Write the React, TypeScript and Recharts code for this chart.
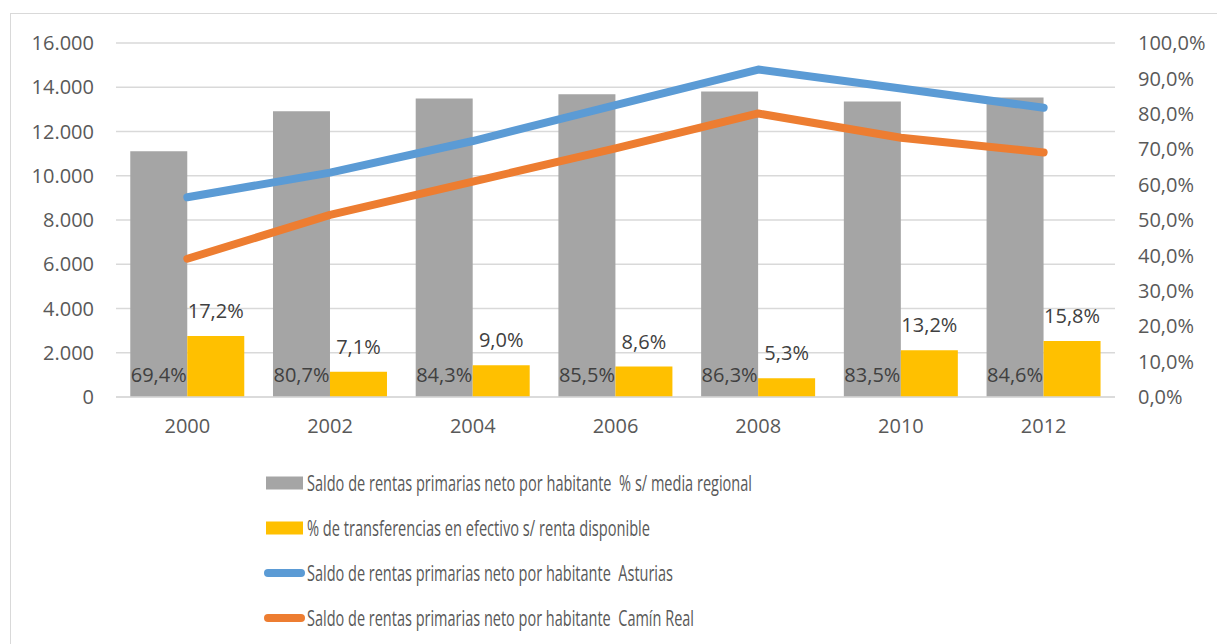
import { ComposedChart, Bar, Line, XAxis, YAxis, CartesianGrid, Legend, LabelList } from "recharts"

const years = ["2000", "2002", "2004", "2006", "2008", "2010", "2012"]
// % s/ media regional (right axis)
const shareOfRegional = [0.694, 0.807, 0.843, 0.855, 0.863, 0.835, 0.846]
// % de transferencias en efectivo s/ renta disponible (right axis)
const transfersShare = [0.172, 0.071, 0.09, 0.086, 0.053, 0.132, 0.158]
// euros por habitante (left axis)
const asturias = [9030, 10140, 11570, 13190, 14800, 13945, 13070]
const caminReal = [6250, 8230, 9730, 11240, 12815, 11715, 11055]

const leftTicks = [0, 2000, 4000, 6000, 8000, 10000, 12000, 14000, 16000]
const rightTicks = [0, 0.1, 0.2, 0.3, 0.4, 0.5, 0.6, 0.7, 0.8, 0.9, 1]

const legendLabels = [
  "Saldo de rentas primarias neto por habitante  % s/ media regional",
  "% de transferencias en efectivo s/ renta disponible",
  "Saldo de rentas primarias neto por habitante  Asturias",
  "Saldo de rentas primarias neto por habitante  Camín Real",
]

const data = years.map((year, i) => ({
  year,
  share: shareOfRegional[i],
  transfers: transfersShare[i],
  asturias: asturias[i],
  caminReal: caminReal[i],
}))

const FONT = "'Open Sans', 'Noto Sans', sans-serif"
const GRAY = "#A5A5A5"
const YELLOW = "#FFC000"
const BLUE = "#5B9BD5"
const ORANGE = "#ED7D31"
const GRID = "#D9D9D9"
const TICK = "#595959"

const fmtThousands = (v: number) => String(v).replace(/\B(?=(\d{3})+(?!\d))/g, ".")
const fmtPct = (v: number) => (v * 100).toFixed(1).replace(".", ",") + "%"

function LegendBox() {
  const kinds = ["rect", "rect", "line", "line"]
  const colors = [GRAY, YELLOW, BLUE, ORANGE]
  const widths = [445, 343, 366, 387]
  return (
    <svg width={1217} height={180} style={{ display: "block" }}>
      {legendLabels.map((label, i) => {
        const cy = 25 + i * 45
        return (
          <g key={label}>
            {kinds[i] === "rect" ? (
              <rect x={266} y={cy - 6.5} width={37} height={13} fill={colors[i]} />
            ) : (
              <line x1={268} y1={cy} x2={301} y2={cy} stroke={colors[i]} strokeWidth={8} strokeLinecap="round" />
            )}
            <text
              x={307}
              y={cy + 7.5}
              fontFamily={FONT}
              fontSize={21.5}
              fill={TICK}
              textLength={widths[i]}
              lengthAdjust="spacingAndGlyphs"
              style={{ whiteSpace: "pre" }}
            >
              {label}
            </text>
          </g>
        )
      })}
    </svg>
  )
}

export default function App() {
  return (
    <div style={{ position: "absolute", left: 0, top: 0, width: 1217, height: 644, background: "#fff", overflow: "hidden" }}>
      <div
        style={{
          position: "absolute",
          left: 10,
          top: 13,
          width: 1240,
          height: 700,
          border: `1.5px solid ${GRID}`,
        }}
      />
      <ComposedChart
        width={1217}
        height={644}
        data={data}
        margin={{ top: 43, right: 0, bottom: 17, left: 0 }}
        barCategoryGap="10%"
        barGap={0}
        style={{ fontFamily: FONT }}
      >
        <CartesianGrid vertical={false} stroke={GRID} strokeWidth={1.5} yAxisId="left" />
        <XAxis
          dataKey="year"
          axisLine={{ stroke: GRID, strokeWidth: 1.5 }}
          tickLine={false}
          tickMargin={16}
          height={50}
          tick={{ fill: TICK, fontSize: 20, fontFamily: FONT }}
        />
        <YAxis
          yAxisId="left"
          orientation="left"
          domain={[0, 16000]}
          ticks={leftTicks}
          width={116}
          axisLine={false}
          tickLine={false}
          tickMargin={16}
          tickFormatter={fmtThousands}
          tick={{ fill: TICK, fontSize: 20, fontFamily: FONT }}
        />
        <YAxis
          yAxisId="right"
          orientation="right"
          domain={[0, 1]}
          ticks={rightTicks}
          width={102}
          axisLine={false}
          tickLine={false}
          tickMargin={17}
          tickFormatter={fmtPct}
          tick={{ fill: TICK, fontSize: 20, fontFamily: FONT }}
        />
        <Legend
          content={() => <LegendBox />}
          wrapperStyle={{ top: 458, bottom: "auto", left: 0, width: 1217 }}
        />
        <Bar yAxisId="right" dataKey="share" fill={GRAY} isAnimationActive={false}>
          <LabelList
            dataKey="share"
            position="insideBottom"
            offset={15}
            formatter={(v: any) => fmtPct(Number(v))}
            fill="#404040"
            fontSize={20}
            fontFamily={FONT}
          />
        </Bar>
        <Bar yAxisId="right" dataKey="transfers" fill={YELLOW} isAnimationActive={false}>
          <LabelList
            dataKey="transfers"
            position="top"
            offset={18}
            formatter={(v: any) => fmtPct(Number(v))}
            fill="#404040"
            fontSize={20}
            fontFamily={FONT}
          />
        </Bar>
        <Line
          yAxisId="left"
          type="linear"
          dataKey="asturias"
          stroke={BLUE}
          strokeWidth={8}
          strokeLinecap="round"
          strokeLinejoin="round"
          dot={false}
          activeDot={false}
          isAnimationActive={false}
        />
        <Line
          yAxisId="left"
          type="linear"
          dataKey="caminReal"
          stroke={ORANGE}
          strokeWidth={8}
          strokeLinecap="round"
          strokeLinejoin="round"
          dot={false}
          activeDot={false}
          isAnimationActive={false}
        />
      </ComposedChart>
    </div>
  )
}
